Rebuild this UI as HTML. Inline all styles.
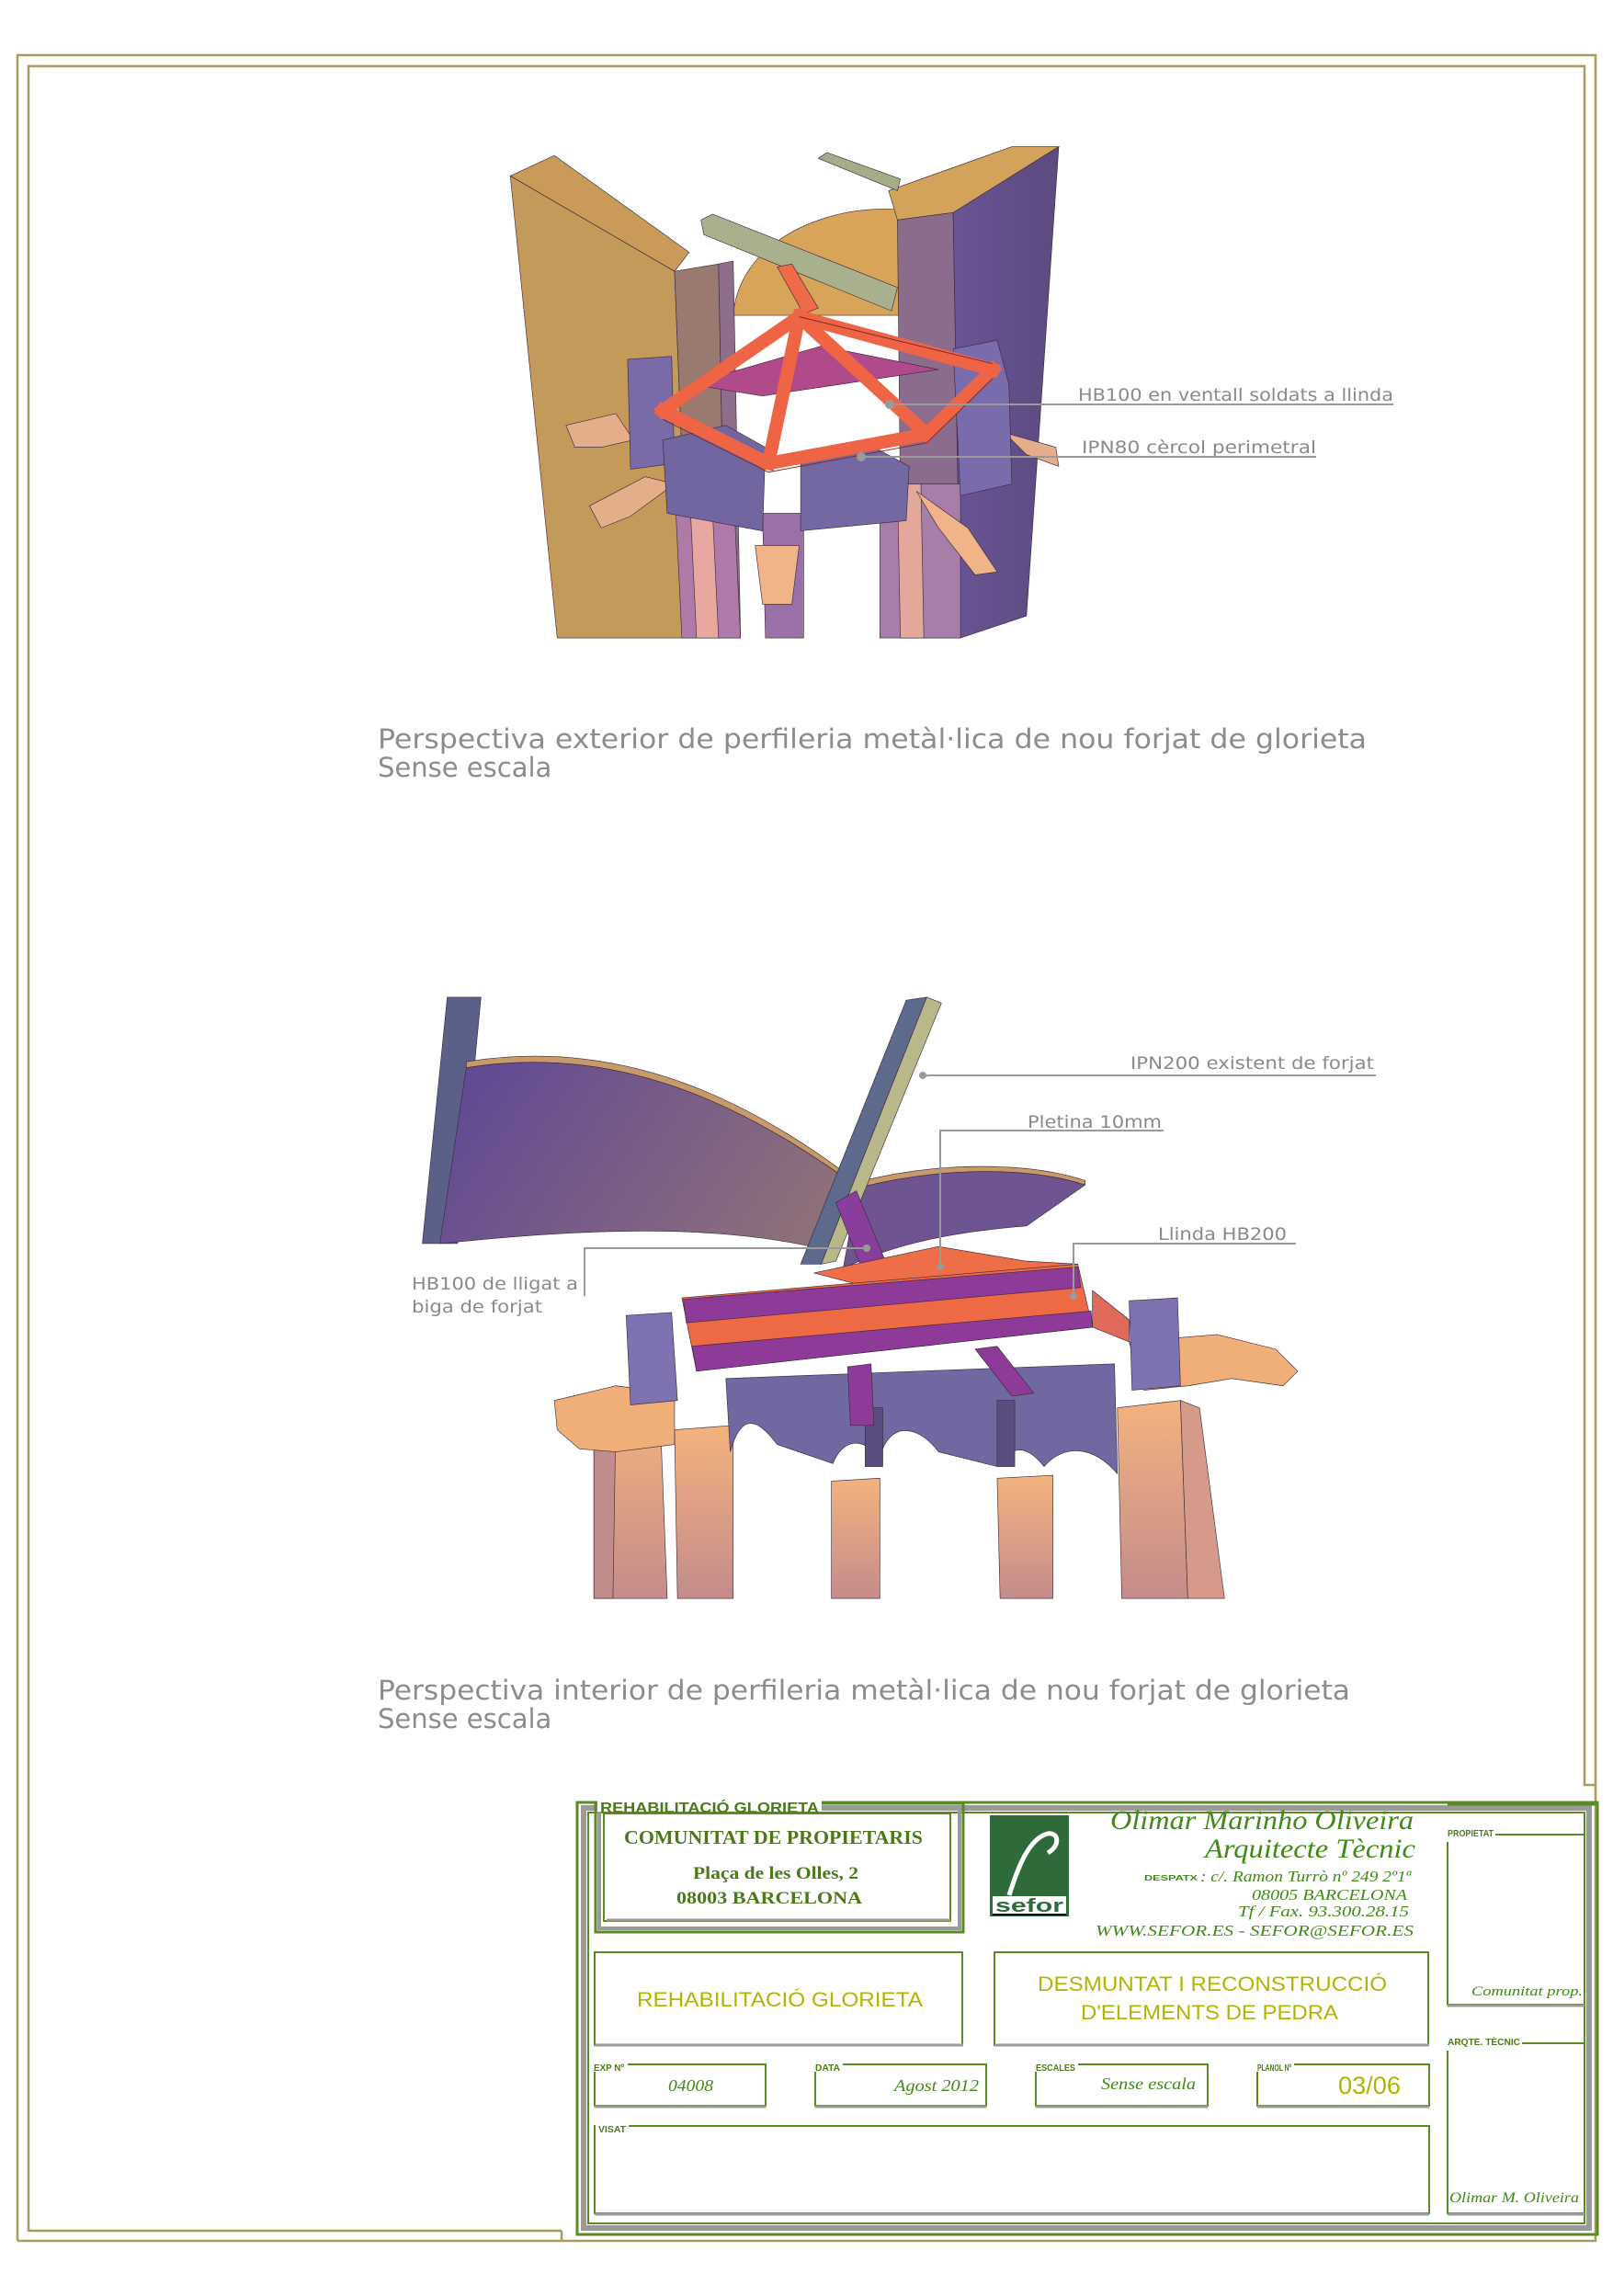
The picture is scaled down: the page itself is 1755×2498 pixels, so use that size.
<!DOCTYPE html>
<html><head><meta charset="utf-8"><style>
html,body{margin:0;padding:0;background:#fff}
svg{display:block}
</style></head><body>
<svg width="1755" height="2498" viewBox="0 0 1755 2498" xmlns="http://www.w3.org/2000/svg">
<defs>
<linearGradient id="vault" x1="0" y1="0" x2="1" y2="0.3"><stop offset="0" stop-color="#5e4696"/><stop offset="1" stop-color="#8e707a"/></linearGradient>
<linearGradient id="pw" x1="0" y1="0" x2="1" y2="0"><stop offset="0" stop-color="#6a5494"/><stop offset="1" stop-color="#5c4a80"/></linearGradient>
<linearGradient id="col" x1="0" y1="0" x2="0" y2="1"><stop offset="0" stop-color="#f4b27e"/><stop offset="1" stop-color="#c48c8c"/></linearGradient>
</defs>
<!-- page frame -->
<g fill="none" stroke="#a89c5a" stroke-width="2.5">
<path d="M611,2427 L611,2438 M19,2438 L19,60 L1736,60 L1736,2438 L19,2438"/>
<path d="M611,2427 L31,2427 L31,72 L1724,72 L1724,1942 L1736,1942"/>
</g>

<!-- TOP DRAWING (thumb coords) -->
<g transform="scale(1.5955)" stroke="#3a2a3a" stroke-width="0.4">
<path d="M500,215 C505,150 600,130 640,150 L650,215 Z" fill="#d7a45a"/>
<polygon points="348,120 378,106 470,172 460,185" fill="#c99a58"/>
<polygon points="348,120 460,185 470,435 380,435" fill="#c49a5a"/>
<polygon points="460,185 490,180 495,435 470,435" fill="#9a7a70"/>
<polygon points="490,180 500,178 505,435 495,435" fill="#8e6e8a"/>
<polygon points="606,130 690,100 722,100 650,145 612,150" fill="#d3a35b"/>
<polygon points="612,150 650,145 655,435 615,435" fill="#8c6c8c"/>
<polygon points="650,145 722,100 700,420 655,435" fill="url(#pw)"/>
<polygon points="558,108 564,104 614,122 612,130" fill="#a4ac88"/>
<polygon points="478,150 486,146 612,196 608,212 480,160" fill="#a8b08e"/>
<polygon points="530,182 540,180 558,210 548,214" fill="#ee6a48"/>
<polygon points="460,330 500,330 505,435 465,435" fill="#b07aa8"/>
<polygon points="470,330 485,330 490,435 475,435" fill="#e8a8a0"/>
<polygon points="520,350 548,350 548,435 522,435" fill="#9a70a8"/>
<polygon points="600,330 655,330 655,435 600,435" fill="#a67ea8"/>
<polygon points="612,330 628,330 630,435 614,435" fill="#e3a89a"/>
<path d="M386,290 L420,282 L432,300 L410,305 L392,305 Z" fill="#e4ae8a"/>
<path d="M402,345 L440,325 L460,330 L430,352 L410,360 Z" fill="#e4ae8a"/>
<path d="M625,335 L660,360 L680,390 L665,392 L640,360 Z" fill="#f0b488"/>
<path d="M685,295 L720,305 L722,318 L700,310 Z" fill="#e4ae8a"/>
<path d="M515,372 L545,372 L540,412 L520,412 Z" fill="#f0b488"/>
<polygon points="428,245 458,243 460,316 430,320" fill="#7a6aa8"/>
<polygon points="452,300 495,290 522,305 520,362 455,350" fill="#7266a0"/>
<polygon points="546,316 598,306 620,318 618,355 546,362" fill="#7468a2"/>
<polygon points="650,238 680,232 688,262 690,330 655,338" fill="#7a6cac"/>
<polygon points="470,262 560,236 640,252 520,270" fill="#b04a8a"/>
<!-- red frame -->
<g stroke="#ee6444" stroke-width="9" stroke-linecap="square" fill="none">
<polyline points="452,280 524,316 632,296 677,252"/>
<line x1="545" y1="216" x2="452" y2="280"/>
<line x1="545" y1="216" x2="524" y2="316"/>
<line x1="545" y1="216" x2="632" y2="296"/>
<line x1="545" y1="216" x2="677" y2="252"/>
</g>
<g stroke="#7a2a2a" stroke-width="0.6" fill="none">
<polyline points="452,286 524,322 632,302 677,258"/>
<line x1="545" y1="216" x2="677" y2="248"/>
</g>
</g>
<!-- top labels -->
<g font-family="DejaVu Sans, sans-serif" fill="#8a8a8a" font-size="19">
<text x="1173" y="436" textLength="343" lengthAdjust="spacingAndGlyphs">HB100 en ventall soldats a llinda</text>
<text x="1177" y="493" textLength="255" lengthAdjust="spacingAndGlyphs">IPN80 cèrcol perimetral</text>
</g>
<g stroke="#9a9a9a" stroke-width="2" fill="#9a9a9a">
<line x1="968" y1="440" x2="1516" y2="440"/><circle cx="968" cy="440" r="4"/>
<line x1="937" y1="497" x2="1432" y2="497"/><circle cx="937" cy="497" r="4"/>
</g>
<g font-family="DejaVu Sans, sans-serif" fill="#8c8c8c" font-size="29">
<text x="411" y="814" textLength="1076" lengthAdjust="spacingAndGlyphs">Perspectiva exterior de perfileria metàl·lica de nou forjat de glorieta</text>
<text x="411" y="845">Sense escala</text>
<text x="411" y="1849" textLength="1058" lengthAdjust="spacingAndGlyphs">Perspectiva interior de perfileria metàl·lica de nou forjat de glorieta</text>
<text x="411" y="1880">Sense escala</text>
</g>

<!-- BOTTOM DRAWING (thumb coords) -->
<g transform="scale(1.5955)" stroke="#3a2a3a" stroke-width="0.4">
<polygon points="405,965 450,960 455,1090 405,1090" fill="url(#col)"/>
<polygon points="405,965 420,963 418,1090 405,1090" fill="#c08c8c"/>
<polygon points="460,975 500,972 500,1090 462,1090" fill="url(#col)"/>
<polygon points="567,1010 600,1008 600,1090 567,1090" fill="url(#col)"/>
<polygon points="680,1008 718,1006 718,1090 682,1090" fill="url(#col)"/>
<polygon points="762,960 805,955 810,1090 765,1090" fill="url(#col)"/>
<polygon points="805,955 818,960 835,1090 810,1090" fill="#d69a8a"/>
<!-- arcade panels with arches -->
<path d="M495,940 L760,930 L762,1005 C745,985 725,985 712,1000 C700,985 690,985 680,1000 L640,990 C625,970 605,970 600,995 C590,980 575,980 568,998 L530,985 C515,965 505,965 498,990 Z" fill="#7068a0"/>
<polygon points="590,960 602,960 602,1000 590,1000" fill="#5a4e80"/>
<polygon points="680,955 692,955 692,1000 680,1000" fill="#5a4e80"/>
<path d="M378,955 L420,945 L460,950 L460,985 L420,990 L395,988 L380,975 Z" fill="#f0ae78"/>
<path d="M770,915 L830,910 L870,920 L885,935 L875,945 L840,940 L810,945 L780,948 Z" fill="#f0ae78"/>
<polygon points="427,897 458,895 462,955 430,958" fill="#7e72b0"/>
<polygon points="770,887 803,885 805,945 772,948" fill="#7e72b0"/>
<polygon points="305,680 328,680 312,848 288,848" fill="#5a6088"/>
<path d="M318,728 C430,710 520,760 602,822 L562,852 C480,832 380,840 300,848 Z" fill="url(#vault)"/>
<path d="M318,728 C430,710 520,760 602,822 L600,818 C520,754 430,706 318,724 Z" fill="#c89a6a"/>
<path d="M585,810 C640,796 700,795 740,808 L700,836 C650,840 610,848 575,865 Z" fill="#6e5490"/>
<path d="M585,810 C640,796 700,795 740,808 L740,805 C700,792 640,792 585,806 Z" fill="#c89a6a"/>
<polygon points="618,682 632,680 560,862 546,862" fill="#5e6a8c"/>
<polygon points="632,680 642,684 570,860 560,862" fill="#b8b888"/>
<polygon points="570,820 584,812 612,880 596,886" fill="#8a3e9c"/>
<polygon points="555,868 640,850 700,860 735,862 620,885" fill="#ee6e48"/>
<polygon points="465,885 735,862 745,905 475,935" fill="#ee6a44"/>
<polygon points="466,886 735,864 737,878 468,902" fill="#8e3a98"/>
<polygon points="472,918 744,894 745,905 475,935" fill="#8e3a98"/>
<polygon points="745,880 770,900 770,915 745,905" fill="#e06a5a"/>
<polygon points="578,932 594,930 596,972 580,972" fill="#8e3a98"/>
<polygon points="665,920 680,918 705,950 690,952" fill="#8e3a98"/>
</g>
<g font-family="DejaVu Sans, sans-serif" fill="#8a8a8a" font-size="19">
<text x="1230" y="1163" textLength="265" lengthAdjust="spacingAndGlyphs">IPN200 existent de forjat</text>
<text x="1118" y="1227" textLength="146" lengthAdjust="spacingAndGlyphs">Pletina 10mm</text>
<text x="1260" y="1349" textLength="140" lengthAdjust="spacingAndGlyphs">Llinda HB200</text>
<text x="448" y="1403" textLength="181" lengthAdjust="spacingAndGlyphs">HB100 de lligat a</text>
<text x="448" y="1428" textLength="142" lengthAdjust="spacingAndGlyphs">biga de forjat</text>
</g>
<g stroke="#9a9a9a" stroke-width="2" fill="none">
<polyline points="1002,1172 1010,1170 1497,1170"/>
<polyline points="1023,1378 1023,1230 1266,1230"/>
<polyline points="1168,1408 1168,1353 1410,1353"/>
<polyline points="941,1358 636,1358 636,1410"/>
</g>
<g fill="#9a9a9a"><circle cx="1004" cy="1170" r="4"/><circle cx="1023" cy="1378" r="4"/><circle cx="1168" cy="1410" r="4"/><circle cx="943" cy="1358" r="4"/></g>

<!-- TITLE BLOCK -->
<g fill="none">
<rect x="628" y="1961" width="1110" height="470" stroke="#5a8a22" stroke-width="3"/>
<rect x="635" y="1967" width="1094" height="457" stroke="#9a9a9a" stroke-width="6"/>
<rect x="640" y="1972" width="1084" height="447" stroke="#5a8a22" stroke-width="2"/>
<rect x="648" y="1962" width="400" height="140" stroke="#5a8a22" stroke-width="3"/>
<rect x="652" y="1966" width="392" height="132" stroke="#9a9a9a" stroke-width="4"/>
<rect x="657" y="1973" width="377" height="117" stroke="#5a8a22" stroke-width="2"/>
<line x1="660" y1="2089" x2="1034" y2="2089" stroke="#9a9a9a" stroke-width="3"/>
<rect x="647" y="2124" width="400" height="101" stroke="#5a8a22" stroke-width="2"/>
<line x1="647" y1="2225" x2="1048" y2="2225" stroke="#9a9a9a" stroke-width="3"/>
<rect x="1082" y="2124" width="472" height="101" stroke="#5a8a22" stroke-width="2"/>
<line x1="1082" y1="2225" x2="1555" y2="2225" stroke="#9a9a9a" stroke-width="3"/>
<g stroke="#5a8a22" stroke-width="2">
<rect x="647" y="2246" width="186" height="45"/>
<rect x="887" y="2246" width="186" height="45"/>
<rect x="1127" y="2246" width="187" height="45"/>
<rect x="1368" y="2246" width="187" height="45"/>
<rect x="647" y="2313" width="908" height="95"/>
<rect x="1575" y="1996" width="149" height="185"/>
<rect x="1575" y="2223" width="149" height="185"/>
</g>
<g stroke="#9a9a9a" stroke-width="3">
<line x1="647" y1="2292" x2="833" y2="2292"/><line x1="887" y1="2292" x2="1073" y2="2292"/>
<line x1="1127" y1="2292" x2="1314" y2="2292"/><line x1="1368" y1="2292" x2="1555" y2="2292"/>
<line x1="647" y1="2409" x2="1555" y2="2409"/>
<line x1="1575" y1="2182" x2="1724" y2="2182"/><line x1="1575" y1="2409" x2="1724" y2="2409"/>
</g>
<line x1="1575" y1="1963" x2="1738" y2="1963" stroke="#5a8a22" stroke-width="3"/>
</g>
<g fill="#fff">
<rect x="650" y="1955" width="244" height="16"/>
<rect x="645" y="2240" width="38" height="14"/><rect x="885" y="2240" width="32" height="14"/>
<rect x="1125" y="2240" width="48" height="14"/><rect x="1366" y="2240" width="42" height="14"/>
<rect x="648" y="2307" width="36" height="14"/>
<rect x="1573" y="1990" width="54" height="14"/><rect x="1573" y="2217" width="83" height="14"/>
</g>
<g font-family="Liberation Sans, sans-serif" font-weight="bold" fill="#4a7a18">
<text x="653" y="1972" font-size="16" textLength="238" lengthAdjust="spacingAndGlyphs">REHABILITACIÓ GLORIETA</text>
<g font-size="10">
<text x="646" y="2253" textLength="33" lengthAdjust="spacingAndGlyphs">EXP Nº</text>
<text x="887" y="2253" textLength="27" lengthAdjust="spacingAndGlyphs">DATA</text>
<text x="1127" y="2253" textLength="43" lengthAdjust="spacingAndGlyphs">ESCALES</text>
<text x="1368" y="2253" textLength="37" lengthAdjust="spacingAndGlyphs">PLANOL Nº</text>
<text x="651" y="2320" textLength="30" lengthAdjust="spacingAndGlyphs">VISAT</text>
<text x="1575" y="1998" textLength="50" lengthAdjust="spacingAndGlyphs">PROPIETAT</text>
<text x="1575" y="2225" textLength="79" lengthAdjust="spacingAndGlyphs">ARQTE. TÈCNIC</text>
</g>
</g>
<g font-family="Liberation Serif, serif" font-weight="bold" fill="#4a7a18">
<text x="679" y="2006" font-size="21" textLength="325" lengthAdjust="spacingAndGlyphs">COMUNITAT DE PROPIETARIS</text>
<text x="754" y="2044" font-size="19" textLength="180" lengthAdjust="spacingAndGlyphs">Plaça de les Olles, 2</text>
<text x="736" y="2071" font-size="19" textLength="202" lengthAdjust="spacingAndGlyphs">08003  BARCELONA</text>
</g>
<rect x="1077" y="1975" width="86" height="110" fill="#2e6a3a"/>
<rect x="1080" y="2063" width="80" height="19" fill="#fff"/>
<path d="M1098,2062 C1108,2030 1120,2000 1140,1995 C1152,1993 1154,2008 1140,2016" stroke="#fff" stroke-width="5" fill="none"/>
<text x="1083" y="2080" font-family="Liberation Sans, sans-serif" font-weight="bold" font-size="20" fill="#2e6a3a" textLength="74" lengthAdjust="spacingAndGlyphs">sefor</text>
<line x1="1080" y1="2083" x2="1160" y2="2083" stroke="#111" stroke-width="2"/>
<g font-family="Liberation Serif, serif" font-style="italic" fill="#3f8a16">
<text x="1208" y="1990" font-size="30" textLength="330" lengthAdjust="spacingAndGlyphs">Olimar Marinho Oliveira</text>
<text x="1311" y="2021" font-size="30" textLength="229" lengthAdjust="spacingAndGlyphs">Arquitecte Tècnic</text>
<text x="1306" y="2047" font-size="17" textLength="229" lengthAdjust="spacingAndGlyphs">: c/. Ramon Turrò nº 249 2º1ª</text>
<text x="1362" y="2067" font-size="17" textLength="169" lengthAdjust="spacingAndGlyphs">08005 BARCELONA</text>
<text x="1347" y="2085" font-size="17" textLength="186" lengthAdjust="spacingAndGlyphs">Tf / Fax.  93.300.28.15</text>
<text x="1192" y="2106" font-size="17" textLength="346" lengthAdjust="spacingAndGlyphs">WWW.SEFOR.ES  -  SEFOR@SEFOR.ES</text>
<text x="1601" y="2171" font-size="15" textLength="121" lengthAdjust="spacingAndGlyphs">Comunitat prop.</text>
<text x="1577" y="2396" font-size="16" textLength="141" lengthAdjust="spacingAndGlyphs">Olimar M. Oliveira</text>
<text x="727" y="2275" font-size="18" textLength="49" lengthAdjust="spacingAndGlyphs">04008</text>
<text x="973" y="2275" font-size="18" textLength="92" lengthAdjust="spacingAndGlyphs">Agost 2012</text>
<text x="1198" y="2273" font-size="18" textLength="103" lengthAdjust="spacingAndGlyphs">Sense escala</text>
</g>
<text x="1245" y="2046" font-family="Liberation Sans, sans-serif" font-weight="bold" font-size="8" fill="#3f8a16" textLength="58" lengthAdjust="spacingAndGlyphs">DESPATX</text>
<g font-family="Liberation Sans, sans-serif" fill="#b2b400">
<text x="693" y="2183" font-size="22" textLength="311" lengthAdjust="spacingAndGlyphs">REHABILITACIÓ GLORIETA</text>
<text x="1129" y="2166" font-size="22" textLength="380" lengthAdjust="spacingAndGlyphs">DESMUNTAT I RECONSTRUCCIÓ</text>
<text x="1176" y="2197" font-size="22" textLength="280" lengthAdjust="spacingAndGlyphs">D'ELEMENTS DE PEDRA</text>
<text x="1456" y="2278" font-size="27" textLength="68" lengthAdjust="spacingAndGlyphs">03/06</text>
</g>
</svg>
</body></html>
